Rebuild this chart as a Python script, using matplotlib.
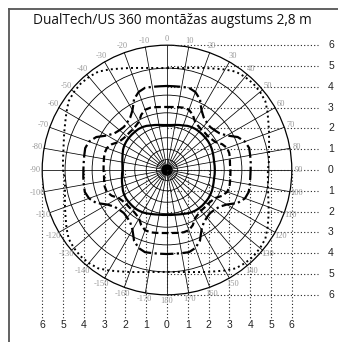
import numpy as np
import matplotlib
matplotlib.use("Agg")
import matplotlib.pyplot as plt
from matplotlib.patches import Circle
from matplotlib.lines import Line2D

title = "DualTech/US 360 montāžas augstums 2,8 m"

# detection contours, radius in metres every 5 deg clockwise from 0 (top)
pattern_angles = np.arange(0, 360, 5)
r_2m = [2.16, 2.17, 2.20, 2.24, 2.28, 2.34, 2.38, 2.40, 2.41, 2.41, 2.41, 2.41, 2.40, 2.38, 2.35, 2.32, 2.30, 2.30,
        2.30, 2.30, 2.30, 2.32, 2.35, 2.38, 2.40, 2.41, 2.41, 2.41, 2.40, 2.38, 2.35, 2.30, 2.25, 2.21, 2.18, 2.17,
        2.16, 2.17, 2.18, 2.21, 2.25, 2.30, 2.35, 2.38, 2.40, 2.40, 2.40, 2.40, 2.38, 2.34, 2.28, 2.24, 2.20, 2.17,
        2.14, 2.15, 2.18, 2.22, 2.27, 2.33, 2.37, 2.39, 2.40, 2.40, 2.40, 2.40, 2.38, 2.34, 2.28, 2.24, 2.20, 2.17]
r_3m = [3.03, 3.04, 3.07, 3.10, 3.08, 2.93, 2.69, 2.60, 2.55, 2.55, 2.55, 2.60, 2.69, 2.93, 3.08, 3.10, 3.07, 3.04,
        3.05, 3.06, 3.08, 3.11, 3.08, 2.93, 2.69, 2.60, 2.55, 2.55, 2.55, 2.60, 2.69, 2.93, 3.08, 3.10, 3.07, 3.04,
        3.03, 3.04, 3.07, 3.10, 3.08, 2.93, 2.69, 2.60, 2.55, 2.55, 2.55, 2.60, 2.69, 2.93, 3.08, 3.10, 3.07, 3.04,
        3.05, 3.06, 3.08, 3.11, 3.08, 2.93, 2.69, 2.60, 2.55, 2.55, 2.55, 2.60, 2.69, 2.93, 3.08, 3.10, 3.07, 3.04]
r_4m = [4.04, 4.04, 4.06, 4.09, 3.99, 3.75, 3.32, 3.08, 2.98, 2.93, 2.98, 3.08, 3.32, 3.75, 3.99, 4.09, 4.06, 4.04,
        4.02, 4.02, 4.04, 4.07, 3.99, 3.75, 3.32, 3.08, 2.98, 2.93, 2.98, 3.08, 3.32, 3.75, 3.99, 4.09, 4.06, 4.04,
        4.04, 4.04, 4.06, 4.09, 3.99, 3.75, 3.32, 3.08, 2.98, 2.93, 2.98, 3.08, 3.32, 3.75, 3.99, 4.09, 4.06, 4.04,
        4.02, 4.02, 4.04, 4.07, 3.99, 3.75, 3.32, 3.08, 2.98, 2.93, 2.98, 3.08, 3.32, 3.75, 3.99, 4.09, 4.06, 4.04]
r_5m = [4.90, 4.92, 4.98, 5.08, 5.22, 5.38, 5.58, 5.77, 5.84, 5.87, 5.84, 5.77, 5.58, 5.38, 5.22, 5.08, 4.98, 4.92,
        4.85, 4.87, 4.93, 5.04, 5.20, 5.38, 5.58, 5.77, 5.84, 5.87, 5.84, 5.77, 5.58, 5.38, 5.22, 5.08, 4.98, 4.92,
        4.90, 4.92, 4.98, 5.08, 5.22, 5.38, 5.58, 5.77, 5.84, 5.87, 5.84, 5.77, 5.58, 5.38, 5.22, 5.08, 4.98, 4.92,
        5.00, 5.02, 5.06, 5.14, 5.26, 5.40, 5.58, 5.77, 5.84, 5.87, 5.84, 5.77, 5.58, 5.38, 5.22, 5.08, 4.98, 4.92]

grid_rings = [0.5, 1.0, 1.55, 2.1, 2.75, 3.6, 4.9, 6.0]
angle_ticks = list(range(-170, 181, 10))
dist_ticks = [-6, -5, -4, -3, -2, -1, 0, 1, 2, 3, 4, 5, 6]
dist_labels = ["6", "5", "4", "3", "2", "1", "0", "1", "2", "3", "4", "5", "6"]

PX = 20.8  # pixels per metre
CX, CY = 167, 170  # centre of the diagram in pixels


def polar_xy(ang_deg, r):
    a = np.radians(ang_deg)
    return np.asarray(r) * np.sin(a), np.asarray(r) * np.cos(a)


fig = plt.figure(figsize=(3.38, 3.42), dpi=100)
ax = fig.add_axes([0, 0, 1, 1])
ax.set_xlim(-CX / PX, (338 - CX) / PX)
ax.set_ylim(-(342 - CY) / PX, CY / PX)
ax.set_aspect("equal")
ax.axis("off")

# polar grid
for r in grid_rings:
    ax.add_patch(Circle((0, 0), r, fill=False, color="black",
                        lw=0.9 if r == grid_rings[-1] else 0.6))
for a in range(0, 360, 10):
    x, y = polar_xy(a, grid_rings[-1])
    ax.plot([0, x], [0, y], color="black", lw=0.55)
ax.add_patch(Circle((0, 0), 0.24, color="black"))

# guide lines to the distance scales
x_end = (318 - CX) / PX
y_end = -(318 - CY) / PX
for d in dist_ticks:
    ax.plot([0, x_end], [d, d], color="#222222", lw=0.8, ls=(0, (1, 2)))
    ax.plot([d, d], [0, y_end], color="#222222", lw=0.8, ls=(0, (1, 2)))
for d, lab in zip(dist_ticks, dist_labels):
    ax.text((331 - CX) / PX, -d, lab, ha="center", va="center",
            fontsize=7.5, family="Liberation Sans", color="#222222")
    ax.text(d, -(325 - CY) / PX, lab, ha="center", va="center",
            fontsize=7.5, family="Liberation Sans", color="#222222")

# angle labels
for a in angle_ticks:
    x, y = polar_xy(a, 6.32)
    ax.text(x, y, str(a), ha="center", va="center", fontsize=6,
            family="Liberation Serif", color="#999999")

# detection contours
styles = [
    (r_2m, dict(ls="-", lw=1.6)),
    (r_3m, dict(ls=(0, (3, 1.5)), lw=1.6)),
    (r_4m, dict(ls=(0, (6, 1.5, 1, 1.5)), lw=1.6)),
    (r_5m, dict(ls=(0, (1, 1.6)), lw=1.4)),
]
ang_closed = np.append(pattern_angles, 360)
for radii, st in styles:
    x, y = polar_xy(ang_closed, np.append(radii, radii[0]))
    ax.plot(x, y, color="black", **st)

# title and frame
fig.text(172 / 338, 1 - 20 / 342, title, ha="center", va="center",
         fontsize=9.8, family="Open Sans", color="#111111")
fig.add_artist(Line2D([9 / 338, 9 / 338], [0, 1 - 9 / 342],
                      transform=fig.transFigure, color="#555555", lw=1.3))
fig.add_artist(Line2D([9 / 338, 1], [1 - 9 / 342, 1 - 9 / 342],
                      transform=fig.transFigure, color="#555555", lw=1.3))

fig.savefig("out.png", dpi=100, facecolor="white")
